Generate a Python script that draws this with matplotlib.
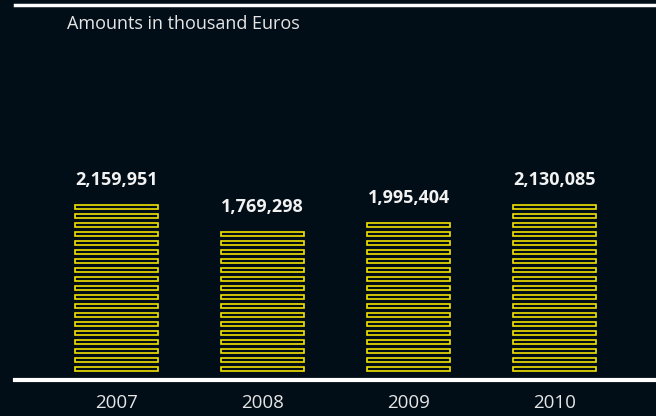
import matplotlib
matplotlib.use("Agg")
import matplotlib.pyplot as plt
from matplotlib.patches import Rectangle

years = ["2007", "2008", "2009", "2010"]
amounts = [2159951, 1769298, 1995404, 2130085]  # thousand Euros
stripe_unit = 114100  # one stripe per ~114k

bg = "#020e17"
yellow = "#f2e200"

plt.rcParams["font.family"] = ["Open Sans", "DejaVu Sans"]

fig = plt.figure(figsize=(6.56, 4.16), dpi=100, facecolor=bg)
ax = fig.add_axes([15 / 656, 36.5 / 416, 641 / 656, 374.5 / 416], facecolor=bg)

bar_w = 0.57
stripe_h = 0.42 * stripe_unit
for i, v in enumerate(amounts):
    n = round(v / stripe_unit)
    for k in range(n):
        ax.add_patch(Rectangle((i - bar_w / 2, k * stripe_unit), bar_w, stripe_h,
                               facecolor="none", edgecolor=yellow, linewidth=1.2))
    top = (n - 1) * stripe_unit + stripe_h
    ax.annotate(f"{v:,}", (i, top), xytext=(0, 14.5), textcoords="offset points",
                ha="center", va="baseline", color="#f2f2f2", fontsize=13,
                fontweight="bold")

ax.set_xlim(-0.695, 3.695)
ax.set_ylim(-8.5 / 9 * stripe_unit, 366 / 9 * stripe_unit)

ax.set_xticks(range(len(years)))
ax.set_xticklabels(years, color="#e6e6e6", fontsize=13.5)
ax.tick_params(axis="x", length=0, pad=10.5)
ax.set_yticks([])

for s in ["left", "right"]:
    ax.spines[s].set_visible(False)
ax.spines["top"].set_color("white")
ax.spines["top"].set_linewidth(2.5)
ax.spines["bottom"].set_color("white")
ax.spines["bottom"].set_linewidth(3)

fig.text(67 / 656, 1 - 29 / 416, "Amounts in thousand Euros", color="#e6e6e6",
         fontsize=13, ha="left", va="baseline")

fig.savefig("out.png", dpi=100, facecolor=bg)
